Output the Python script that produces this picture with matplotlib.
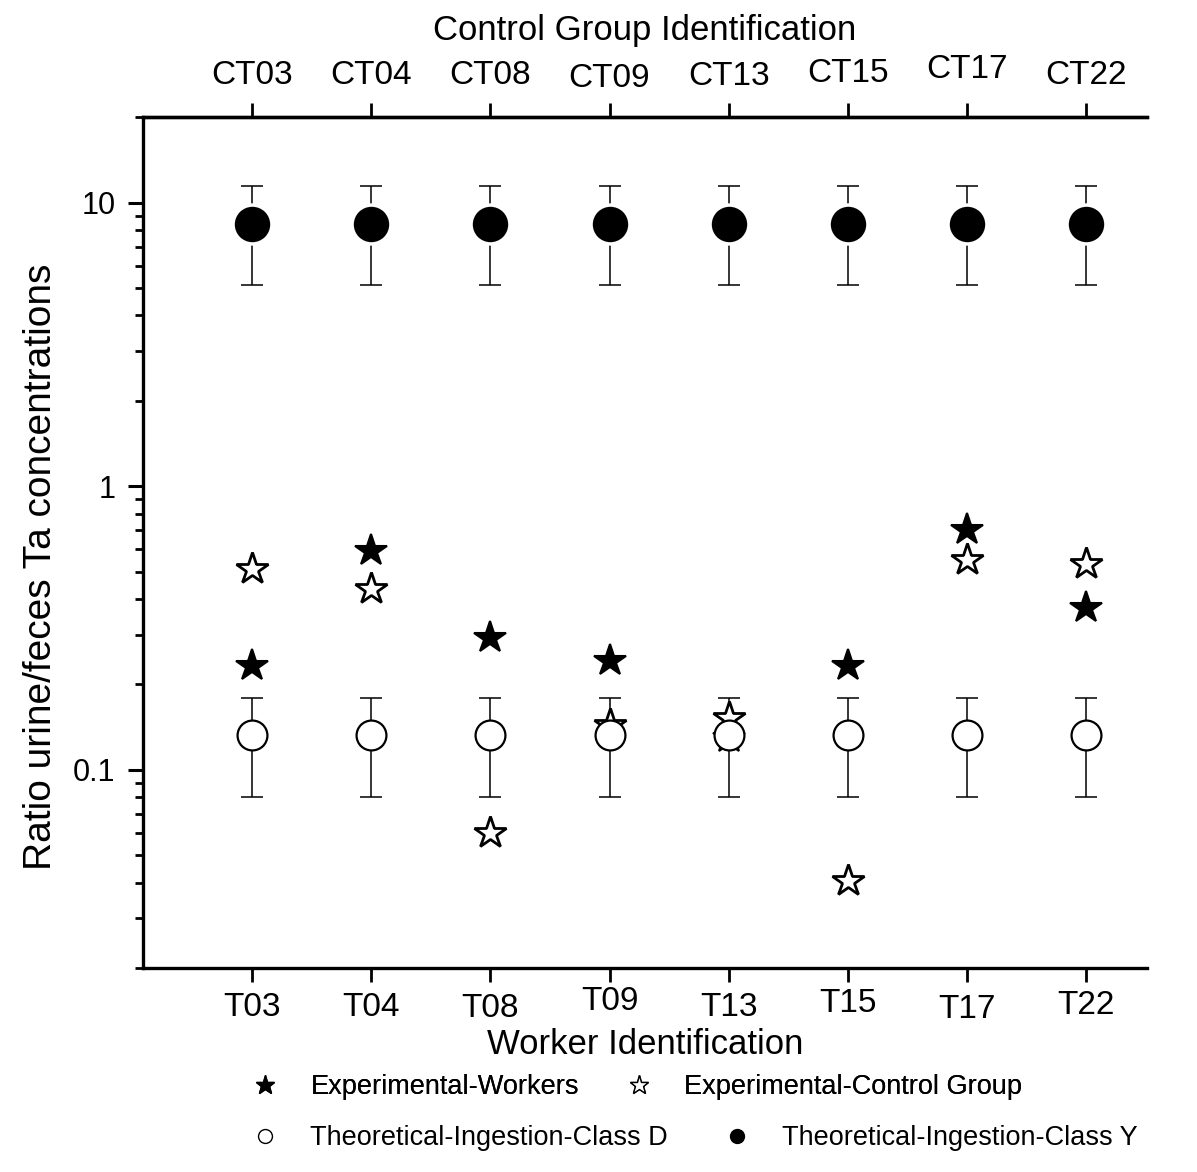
import numpy as np
import matplotlib
matplotlib.use("Agg")
import matplotlib.pyplot as plt
from matplotlib.lines import Line2D

plt.rcParams['font.family'] = ['Liberation Sans', 'DejaVu Sans']

# ---- data ----
workers = ["T03", "T04", "T08", "T09", "T13", "T15", "T17", "T22"]
controls = ["CT03", "CT04", "CT08", "CT09", "CT13", "CT15", "CT17", "CT22"]
exp_workers = [0.233, 0.59, 0.292, 0.241, 0.13, 0.233, 0.698, 0.372]
exp_control = [0.51, 0.434, 0.060, 0.144, 0.152, 0.0405, 0.548, 0.531]
classD_val = [0.133] * 8
classD_lo = [0.0804] * 8
classD_hi = [0.179] * 8
classY_val = [8.4] * 8
classY_lo = [5.12] * 8
classY_hi = [11.4] * 8

x = np.arange(1, len(workers) + 1)

fig = plt.figure(figsize=(11.97, 11.72), dpi=100)
ax = fig.add_axes([0.1195, 0.174, 0.8387, 0.726])

ax.set_yscale('log')
ax.set_ylim(0.02, 20)
ax.set_xlim(0.085, 8.51)

# stars (drawn under the circles)
ax.plot(x, exp_workers, linestyle='none', marker='*', ms=24, mfc='black',
        mec='black', mew=1.5, zorder=2)
ax.plot(x, exp_control, linestyle='none', marker='*', ms=24, mfc='white',
        mec='black', mew=2.0, zorder=2)

# theoretical class D
dD = np.array(classD_val)
ax.errorbar(x, dD, yerr=[dD - np.array(classD_lo), np.array(classD_hi) - dD],
            fmt='none', ecolor='black', elinewidth=1.1, capsize=8, capthick=1.1,
            zorder=1)
ax.plot(x, dD, linestyle='none', marker='o', ms=21.5, mfc='white', mec='black',
        mew=1.6, zorder=3)

# theoretical class Y
dY = np.array(classY_val)
ax.errorbar(x, dY, yerr=[dY - np.array(classY_lo), np.array(classY_hi) - dY],
            fmt='none', ecolor='black', elinewidth=1.1, capsize=8, capthick=1.1,
            zorder=1)
ax.plot(x, dY, linestyle='none', marker='o', ms=28, mfc='black', mec='white',
        mew=2.5, zorder=3)

# axes styling
for s in ['left', 'bottom', 'top']:
    ax.spines[s].set_linewidth(2.4)
ax.spines['right'].set_visible(False)

ax.set_xticks(x)
ax.set_xticklabels(workers, fontsize=24)
ax.tick_params(axis='x', which='major', direction='out', length=10, width=2,
               pad=7, top=False)
ax.tick_params(axis='y', which='major', direction='out', length=11, width=2.2,
               labelsize=22, pad=9)
ax.tick_params(axis='y', which='minor', direction='out', length=6, width=2)
ax.set_yticks([0.1, 1, 10])
ax.set_yticklabels(['0.1', '1', '10'])
ax.yaxis.set_minor_formatter(matplotlib.ticker.NullFormatter())

bottom_pads = [7.5, 7.5, 8, 3, 7.5, 4.5, 8.5, 5.5]
for t, p in zip(ax.xaxis.get_major_ticks(), bottom_pads):
    t.set_pad(p)

ax.set_xlabel('Worker Identification', fontsize=25, labelpad=2)
ax.set_ylabel('Ratio urine/feces Ta concentrations', fontsize=28, labelpad=10)
ax.yaxis.label.set_y(0.471)

# top axis
ax2 = ax.twiny()
ax2.set_xlim(ax.get_xlim())
ax2.set_xticks(x)
ax2.set_xticklabels(controls, fontsize=24)
for s in ['left', 'bottom', 'right']:
    ax2.spines[s].set_visible(False)
ax2.spines['top'].set_linewidth(2.4)
ax2.tick_params(axis='x', direction='out', length=10, width=2, pad=9)
top_pads = [9, 9, 9, 6.5, 8, 10, 13, 9]
for t, p in zip(ax2.xaxis.get_major_ticks(), top_pads):
    t.set_pad(p)
ax2.set_xlabel('Control Group Identification', fontsize=25, labelpad=10)

# legends
h_w = Line2D([], [], linestyle='none', marker='*', ms=14, mfc='black', mec='black')
h_c = Line2D([], [], linestyle='none', marker='*', ms=14, mfc='white', mec='black', mew=1)
h_d = Line2D([], [], linestyle='none', marker='o', ms=10, mfc='white', mec='black', mew=1)
h_y = Line2D([], [], linestyle='none', marker='o', ms=10, mfc='black', mec='black')

leg1 = fig.legend([h_w, h_c], ['Experimental-Workers', 'Experimental-Control Group'],
                  loc='center left', bbox_to_anchor=(0.1988, 1 - 1087 / 1172),
                  ncol=2, frameon=False, fontsize=19.5, handlelength=2,
                  handletextpad=0.67, columnspacing=1.22, borderpad=0,
                  borderaxespad=0)
leg2 = fig.legend([h_d, h_y], ['Theoretical-Ingestion-Class D', 'Theoretical-Ingestion-Class Y'],
                  loc='center left', bbox_to_anchor=(0.1988, 1 - 1138 / 1172),
                  ncol=2, frameon=False, fontsize=19.5, handlelength=2,
                  handletextpad=0.67, columnspacing=1.55, borderpad=0,
                  borderaxespad=0)
fig.add_artist(leg1)

fig.savefig('out.png', dpi=100)
